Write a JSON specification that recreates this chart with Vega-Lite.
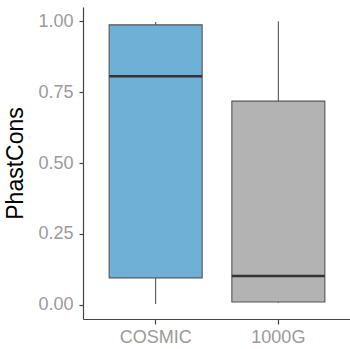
{
  "$schema": "https://vega.github.io/schema/vega-lite/v6.json",
  "autosize": {"type": "none"},
  "padding": {"left": 83, "top": 7, "right": 0, "bottom": 30},
  "width": 268,
  "height": 312,
  "background": "white",
  "config": {
    "view": {"stroke": null},
    "font": "Liberation Sans",
    "axis": {
      "grid": false,
      "domainColor": "#444444",
      "domainWidth": 1.2,
      "tickColor": "#444444",
      "tickWidth": 1.2,
      "tickSize": 4,
      "labelColor": "#9a9a9a",
      "labelFontSize": 18,
      "labelFont": "Liberation Sans",
      "titleFont": "Liberation Sans",
      "titleFontWeight": "normal",
      "titleColor": "#000000",
      "titleFontSize": 23
    }
  },
  "data": {
    "values": [
      {"group": "COSMIC", "min": 0.003, "q1": 0.095, "median": 0.806, "q3": 0.987, "max": 0.997},
      {"group": "1000G", "min": 0.007, "q1": 0.01, "median": 0.102, "q3": 0.718, "max": 1.0}
    ]
  },
  "encoding": {
    "x": {
      "field": "group",
      "type": "nominal",
      "sort": ["COSMIC", "1000G"],
      "scale": {"type": "band", "paddingInner": 0.242, "paddingOuter": 0.213},
      "axis": {"title": null, "labelAngle": 0, "labelPadding": 4, "tickSize": 5}
    }
  },
  "layer": [
    {
      "mark": {"type": "rule", "color": "#555555", "strokeWidth": 1.1},
      "encoding": {
        "y": {
          "field": "min",
          "type": "quantitative",
          "scale": {"domain": [-0.05, 1.05], "nice": false, "zero": false},
          "axis": {"title": "PhastCons", "values": [0, 0.25, 0.5, 0.75, 1], "format": ".2f", "labelPadding": 6, "titlePadding": 10}
        },
        "y2": {"field": "max"}
      }
    },
    {
      "mark": {"type": "bar", "stroke": "#555555", "strokeWidth": 1.1},
      "encoding": {
        "y": {"field": "q1", "type": "quantitative"},
        "y2": {"field": "q3"},
        "color": {
          "field": "group",
          "type": "nominal",
          "scale": {"domain": ["COSMIC", "1000G"], "range": ["#6fb0d7", "#b3b3b3"]},
          "legend": null
        }
      }
    },
    {
      "mark": {"type": "tick", "color": "#333333", "thickness": 2.5, "size": 93, "opacity": 1},
      "encoding": {
        "y": {"field": "median", "type": "quantitative"}
      }
    }
  ]
}
